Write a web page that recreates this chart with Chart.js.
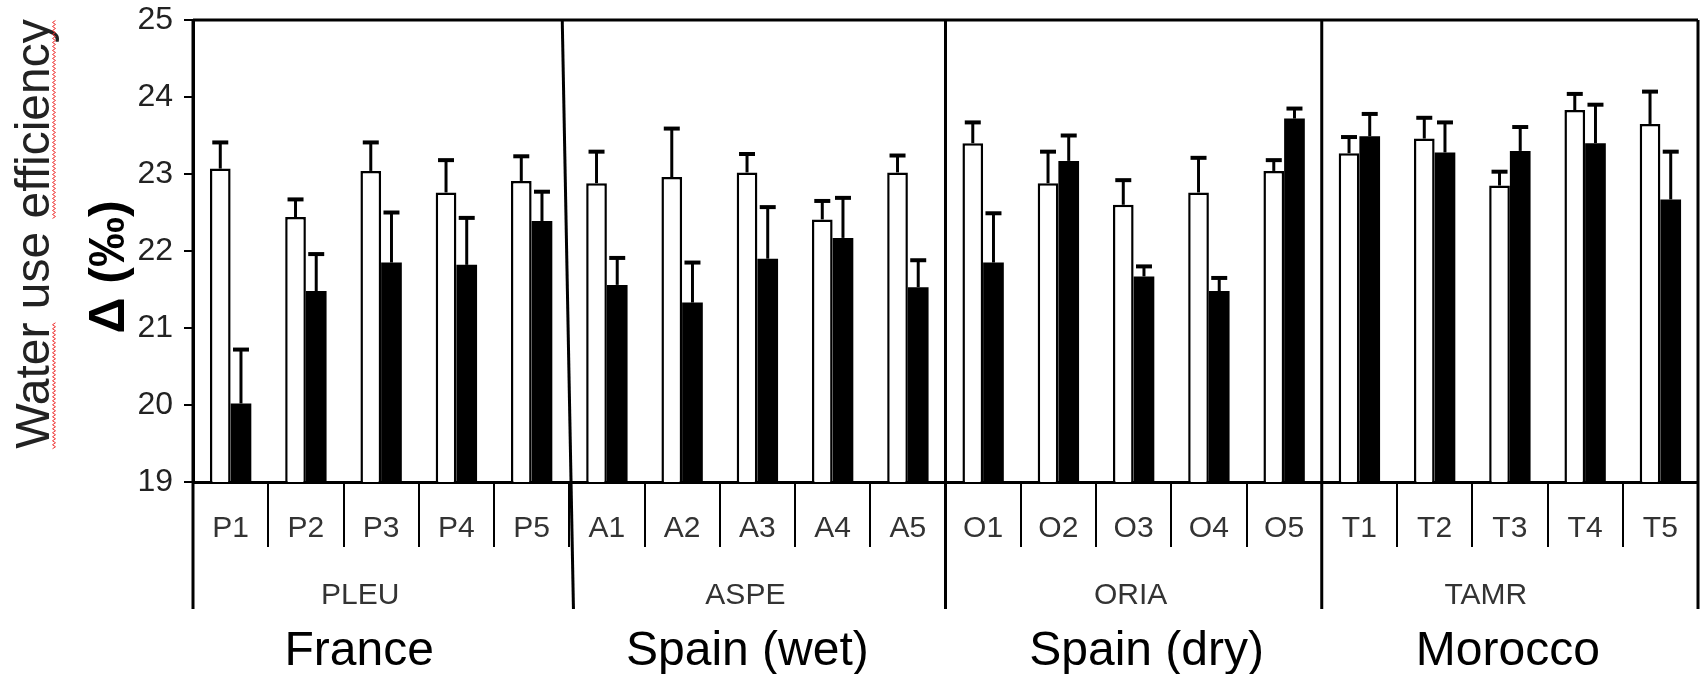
<!DOCTYPE html>
<html lang="en">
<head>
<meta charset="UTF-8">
<title>Water use efficiency</title>
<script src="https://cdn.jsdelivr.net/npm/chart.js"></script>
<style>
  body { margin: 0; background: #fff; }
  #wrap { width: 1700px; height: 674px; position: relative; }
</style>
</head>
<body>
<div id="wrap"><canvas id="wueChart"></canvas></div>
<script>
// populations, grouped by site (5 per site)
const categories = ['P1', 'P2', 'P3', 'P4', 'P5', 'A1', 'A2', 'A3', 'A4', 'A5',
                    'O1', 'O2', 'O3', 'O4', 'O5', 'T1', 'T2', 'T3', 'T4', 'T5'];
const sites = ['PLEU', 'ASPE', 'ORIA', 'TAMR'];
const countries = ['France', 'Spain (wet)', 'Spain (dry)', 'Morocco'];

// white bars
const openMeans = [23.07, 22.44, 23.04, 22.76, 22.91, 22.88, 22.96, 23.02, 22.41, 23.02,
                   23.40, 22.88, 22.60, 22.76, 23.04, 23.27, 23.46, 22.85, 23.83, 23.65];
const openErr   = [0.34, 0.23, 0.37, 0.42, 0.32, 0.41, 0.63, 0.24, 0.24, 0.22,
                   0.27, 0.41, 0.32, 0.45, 0.14, 0.21, 0.27, 0.18, 0.21, 0.42];
// black bars
const blackMeans = [20.02, 21.48, 21.85, 21.82, 22.39, 21.56, 21.33, 21.90, 22.17, 21.53,
                    21.85, 23.17, 21.67, 21.48, 23.72, 23.49, 23.28, 23.30, 23.40, 22.67];
const blackErr   = [0.70, 0.48, 0.65, 0.61, 0.38, 0.35, 0.52, 0.67, 0.52, 0.35,
                    0.64, 0.33, 0.13, 0.17, 0.13, 0.29, 0.39, 0.31, 0.50, 0.62];

const yMin = 19, yMax = 25;
const FONT = '"Liberation Sans", Arial, sans-serif';

// upward error bars with a cap
const errorBars = {
  id: 'errorBars',
  afterDatasetsDraw(chart) {
    const ctx = chart.ctx;
    const y = chart.scales.y;
    ctx.save();
    ctx.strokeStyle = '#000';
    chart.data.datasets.forEach((ds, d) => {
      const meta = chart.getDatasetMeta(d);
      meta.data.forEach((bar, i) => {
        const top = y.getPixelForValue(ds.data[i] + ds.errors[i]);
        ctx.lineWidth = 3;
        ctx.beginPath();
        ctx.moveTo(bar.x, bar.y);
        ctx.lineTo(bar.x, top);
        ctx.stroke();
        ctx.lineWidth = 4;
        ctx.beginPath();
        ctx.moveTo(bar.x - 8, top);
        ctx.lineTo(bar.x + 8, top);
        ctx.stroke();
      });
    });
    ctx.restore();
  }
};

// small red wavy line (spell-check mark) along a vertical run
function squiggle(ctx, x, y0, y1) {
  ctx.beginPath();
  let k = 0;
  for (let yy = y0; yy >= y1; yy -= 2) {
    ctx.lineTo(x + (k++ % 2 ? 1.5 : -1.5), yy);
  }
  ctx.stroke();
}

// frame, site separators, site and country labels, y title
const frame = {
  id: 'frame',
  afterDraw(chart) {
    const ctx = chart.ctx;
    const a = chart.chartArea;
    const x = chart.scales.x;
    const n = categories.length;
    const per = n / sites.length;
    const edge = i => i === 0 ? a.left : i === n ? a.right
      : (x.getPixelForValue(i - 1) + x.getPixelForValue(i)) / 2;
    // label nudges and the slightly leaning first separator of the original
    const siteShift = [-21, -12, -3, -24];
    const countryShift = [-22, -10, 13, -2];
    const lean = [0, 7, 0, 0, 0];

    ctx.save();
    ctx.strokeStyle = '#000';
    ctx.lineWidth = 3;
    ctx.beginPath();
    ctx.moveTo(a.left, a.top);
    ctx.lineTo(a.right, a.top);
    ctx.stroke();

    for (let g = 0; g <= sites.length; g++) {
      const px = edge(g * per);
      ctx.beginPath();
      ctx.moveTo(px - lean[g], a.top);
      ctx.lineTo(px + lean[g] * 0.6, a.bottom + 127);
      ctx.stroke();
    }

    ctx.textAlign = 'center';
    ctx.textBaseline = 'alphabetic';
    sites.forEach((s, g) => {
      const cx = (edge(g * per) + edge((g + 1) * per)) / 2;
      ctx.fillStyle = '#333';
      ctx.font = '30px ' + FONT;
      ctx.fillText(s, cx + siteShift[g], a.bottom + 122);
      ctx.fillStyle = '#000';
      ctx.font = '48px ' + FONT;
      ctx.fillText(countries[g], cx + countryShift[g], a.bottom + 183);
    });

    // y axis title, two lines
    const cy = (a.top + a.bottom) / 2;
    const title = 'Water use efficiency';
    ctx.textBaseline = 'middle';
    ctx.save();
    ctx.translate(36, cy - 17);
    ctx.rotate(-Math.PI / 2);
    ctx.fillStyle = '#222';
    ctx.font = '48px ' + FONT;
    ctx.fillText(title, 0, 0);
    ctx.restore();

    // red marks under "Water" and "efficiency"
    ctx.font = '48px ' + FONT;
    const full = ctx.measureText(title).width;
    const wWater = ctx.measureText('Water').width;
    const wEff = ctx.measureText('efficiency').width;
    const start = cy - 17 + full / 2;
    ctx.strokeStyle = '#e33';
    ctx.lineWidth = 1;
    squiggle(ctx, 54, start, start - wWater);
    squiggle(ctx, 54, start - full + wEff, start - full);

    ctx.save();
    ctx.translate(110, cy + 16);
    ctx.rotate(-Math.PI / 2);
    ctx.fillStyle = '#000';
    ctx.font = 'bold 50px ' + FONT;
    ctx.fillText('\u0394 (\u2030)', 0, 0);
    ctx.restore();
    ctx.restore();
  }
};

const ctx = document.getElementById('wueChart').getContext('2d');
new Chart(ctx, {
  type: 'bar',
  data: {
    labels: categories,
    datasets: [{
      data: openMeans,
      errors: openErr,
      backgroundColor: '#fff',
      borderColor: '#000',
      borderWidth: 2.5,
      borderSkipped: 'bottom',
      categoryPercentage: 0.55,
      barPercentage: 1.0
    }, {
      data: blackMeans,
      errors: blackErr,
      backgroundColor: '#000',
      borderWidth: 0,
      categoryPercentage: 0.55,
      barPercentage: 1.0
    }]
  },
  options: {
    responsive: true,
    maintainAspectRatio: false,
    animation: false,
    layout: { padding: { top: 20, right: 2, left: 0, bottom: 0 } },
    plugins: { legend: { display: false }, tooltip: { enabled: false } },
    scales: {
      x: {
        afterFit(scale) {
          scale.height = 192;
          scale.paddingLeft = 0;
          scale.paddingRight = 0;
        },
        grid: {
          offset: true,
          drawOnChartArea: false,
          drawTicks: true,
          tickLength: 65,
          color: '#000',
          lineWidth: 2
        },
        border: { display: true, color: '#000', width: 3 },
        ticks: {
          autoSkip: false,
          maxRotation: 0,
          padding: -36,
          color: '#333',
          font: { family: FONT, size: 30 }
        }
      },
      y: {
        min: yMin,
        max: yMax,
        afterFit(scale) {
          scale.width = 193;
          scale.paddingTop = 0;
          scale.paddingBottom = 0;
        },
        grid: {
          drawOnChartArea: false,
          drawTicks: true,
          tickLength: 9,
          color: '#000',
          lineWidth: 2
        },
        border: { display: true, color: '#000', width: 3 },
        ticks: {
          stepSize: 1,
          padding: 11,
          color: '#222',
          font: { family: FONT, size: 32 }
        }
      }
    }
  },
  plugins: [errorBars, frame]
});
</script>
</body>
</html>
